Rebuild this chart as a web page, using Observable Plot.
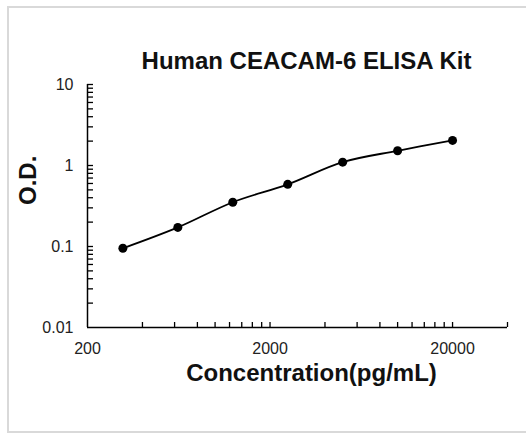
<!DOCTYPE html>
<html>
<head>
<meta charset="utf-8">
<script src="https://cdn.jsdelivr.net/npm/d3@7"></script>
<script src="https://cdn.jsdelivr.net/npm/@observablehq/plot@0.6"></script>
<style>
  html, body { margin: 0; padding: 0; background: #fff; }
  #wrap { position: relative; width: 526px; height: 434px; overflow: hidden; }
  #border { position: absolute; left: 7px; top: 6px; width: 540px; height: 427px; border: 2px solid #d9d9d9; box-sizing: border-box; pointer-events: none; }
  #chart { position: absolute; left: 0; top: 0; }
</style>
</head>
<body>
<div id="wrap"><div id="chart"></div><div id="border"></div></div>
<script>
const title = "Human CEACAM-6 ELISA Kit";
const xTitle = "Concentration(pg/mL)";
const yTitle = "O.D.";
const concentration = [312.5, 625, 1250, 2500, 5000, 10000, 20000];
const od = [0.095, 0.172, 0.352, 0.585, 1.10, 1.52, 2.04];
const xDomain = [200, 40000];
const yDomain = [0.01, 10];
const xTickLabels = [200, 2000, 20000];
const yTickLabels = [0.01, 0.1, 1, 10];
const xTicks = [400, 600, 800, 1000, 1200, 1400, 1600, 1800, 2000, 4000, 6000, 8000, 10000, 12000, 14000, 16000, 18000, 20000, 40000];
const yTicks = [0.02, 0.03, 0.04, 0.05, 0.06, 0.07, 0.08, 0.09, 0.1, 0.2, 0.3, 0.4, 0.5, 0.6, 0.7, 0.8, 0.9, 1, 2, 3, 4, 5, 6, 7, 8, 9, 10];

const data = concentration.map((c, i) => ({conc: c, od: od[i]}));

const chart = Plot.plot({
  width: 526,
  height: 434,
  marginLeft: 87,
  marginRight: 19,
  marginTop: 84,
  marginBottom: 107,
  style: {fontFamily: "'Liberation Sans', Arial, sans-serif", fontSize: "16px", color: "#000", background: "transparent"},
  x: {type: "log", domain: xDomain, label: null},
  y: {type: "log", domain: yDomain, label: null},
  marks: [
    Plot.axisX(xTicks, {tickSize: -5, tickFormat: () => "", label: null, strokeWidth: 1.3, stroke: "#000"}),
    Plot.axisY(yTicks, {tickSize: -6, tickFormat: () => "", label: null, strokeWidth: 1.3, stroke: "#000"}),
    Plot.ruleY([yDomain[0]], {stroke: "#000", strokeWidth: 1.5}),
    Plot.ruleX([xDomain[0]], {stroke: "#000", strokeWidth: 1.5}),
    Plot.text(xTickLabels, {x: d => d, frameAnchor: "bottom", dy: 26, text: d => String(d), fontSize: 16, fill: "#222"}),
    Plot.text(yTickLabels, {y: d => d, frameAnchor: "left", dx: -14, textAnchor: "end", text: d => String(d), fontSize: 16, fill: "#222"}),
    Plot.line(data, {x: "conc", y: "od", curve: "catmull-rom", stroke: "#000", strokeWidth: 1.8}),
    Plot.dot(data, {x: "conc", y: "od", r: 4.5, fill: "#000", stroke: "none"}),
    Plot.text([title], {frameAnchor: "top", dx: 9, dy: -33, fontSize: 24, fontWeight: "bold", fill: "#111"}),
    Plot.text([xTitle], {frameAnchor: "bottom", dx: 14, dy: 53, fontSize: 24, fontWeight: "bold", fill: "#111"}),
    Plot.text([yTitle], {frameAnchor: "left", dx: -59, dy: -1, rotate: -90, fontSize: 24, fontWeight: "bold", fill: "#111"})
  ]
});
document.getElementById("chart").appendChild(chart);
</script>
</body>
</html>
